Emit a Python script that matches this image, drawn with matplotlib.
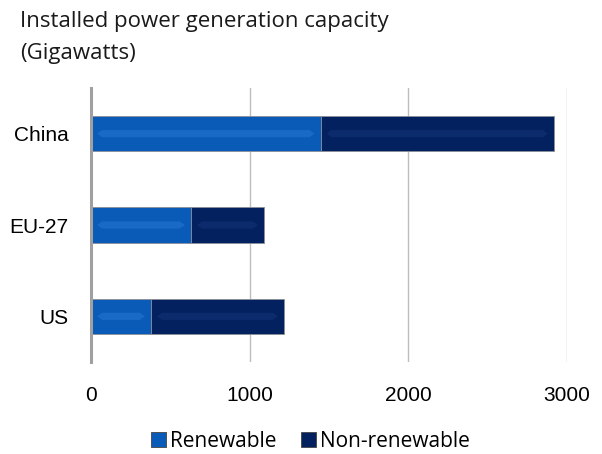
import matplotlib.pyplot as plt
from matplotlib.patches import Polygon, Patch

# data (GW)
regions = ["China", "EU-27", "US"]
renewable = [1447, 630, 378]
non_renewable = [1470, 460, 838]
ticks = [0, 1000, 2000, 3000]

c_ren = "#0a5bb8"
c_non = "#03215e"
hl_ren = "#2474d0"
hl_non = "#123378"

fig = plt.figure(figsize=(6.02, 4.54), dpi=100)
ax = fig.add_axes([0.1512, 0.2026, 0.7907, 0.6036])

ypos = list(range(len(regions)))[::-1]
bh = 0.39

ax.barh(ypos, renewable, height=bh, color=c_ren, edgecolor="#8a8f98", linewidth=0.6, zorder=3)
ax.barh(ypos, non_renewable, left=renewable, height=bh, color=c_non, edgecolor="#8a8f98", linewidth=0.6, zorder=3)

# bevel highlight inside each segment
def bevel(x0, w, yc, col):
    d = 70
    hb = bh * 0.1
    pts = [(x0 + d, yc - hb), (x0 + w - d, yc - hb), (x0 + w - d * 0.55, yc),
           (x0 + w - d, yc + hb), (x0 + d, yc + hb), (x0 + d * 0.55, yc)]
    ax.add_patch(Polygon(pts, closed=True, color=col, lw=0, zorder=4, alpha=0.6))

for y, r, n in zip(ypos, renewable, non_renewable):
    bevel(0, r, y, hl_ren)
    bevel(r, n, y, hl_non)

ax.set_xlim(0, 3000)
ax.set_ylim(-0.5, 2.5)
ax.set_xticks(ticks)
ax.set_xticklabels([str(t) for t in ticks], fontsize=15, family="Liberation Sans")
ax.set_yticks(ypos)
ax.set_yticklabels(regions, fontsize=15, family="Liberation Sans")
ax.tick_params(length=0)
ax.tick_params(axis="x", pad=17)
ax.tick_params(axis="y", pad=16)
ax.grid(axis="x", color="#bdbdbd", linewidth=1, zorder=0)
for s in ["top", "right", "bottom"]:
    ax.spines[s].set_visible(False)
ax.spines["left"].set_color("#a0a0a0")
ax.spines["left"].set_linewidth(2.2)
ax.spines["left"].set_zorder(5)

fig.text(0.033, 0.975, "Installed power generation capacity\n(Gigawatts)", fontsize=16,
         family="Open Sans", va="top", ha="left", linespacing=1.65, color="#1a1a1a")

handles = [Patch(facecolor=c_ren, edgecolor="#444444", linewidth=0.6, label="Renewable"),
           Patch(facecolor=c_non, edgecolor="#444444", linewidth=0.6, label="Non-renewable")]
fig.legend(handles=handles, loc="center", bbox_to_anchor=(0.516, 0.028), ncol=2, frameon=False,
           prop={"family": "Open Sans", "size": 15}, handlelength=0.7, handleheight=0.7,
           handletextpad=0.2, columnspacing=1.2)

fig.savefig("out.png", dpi=100)
